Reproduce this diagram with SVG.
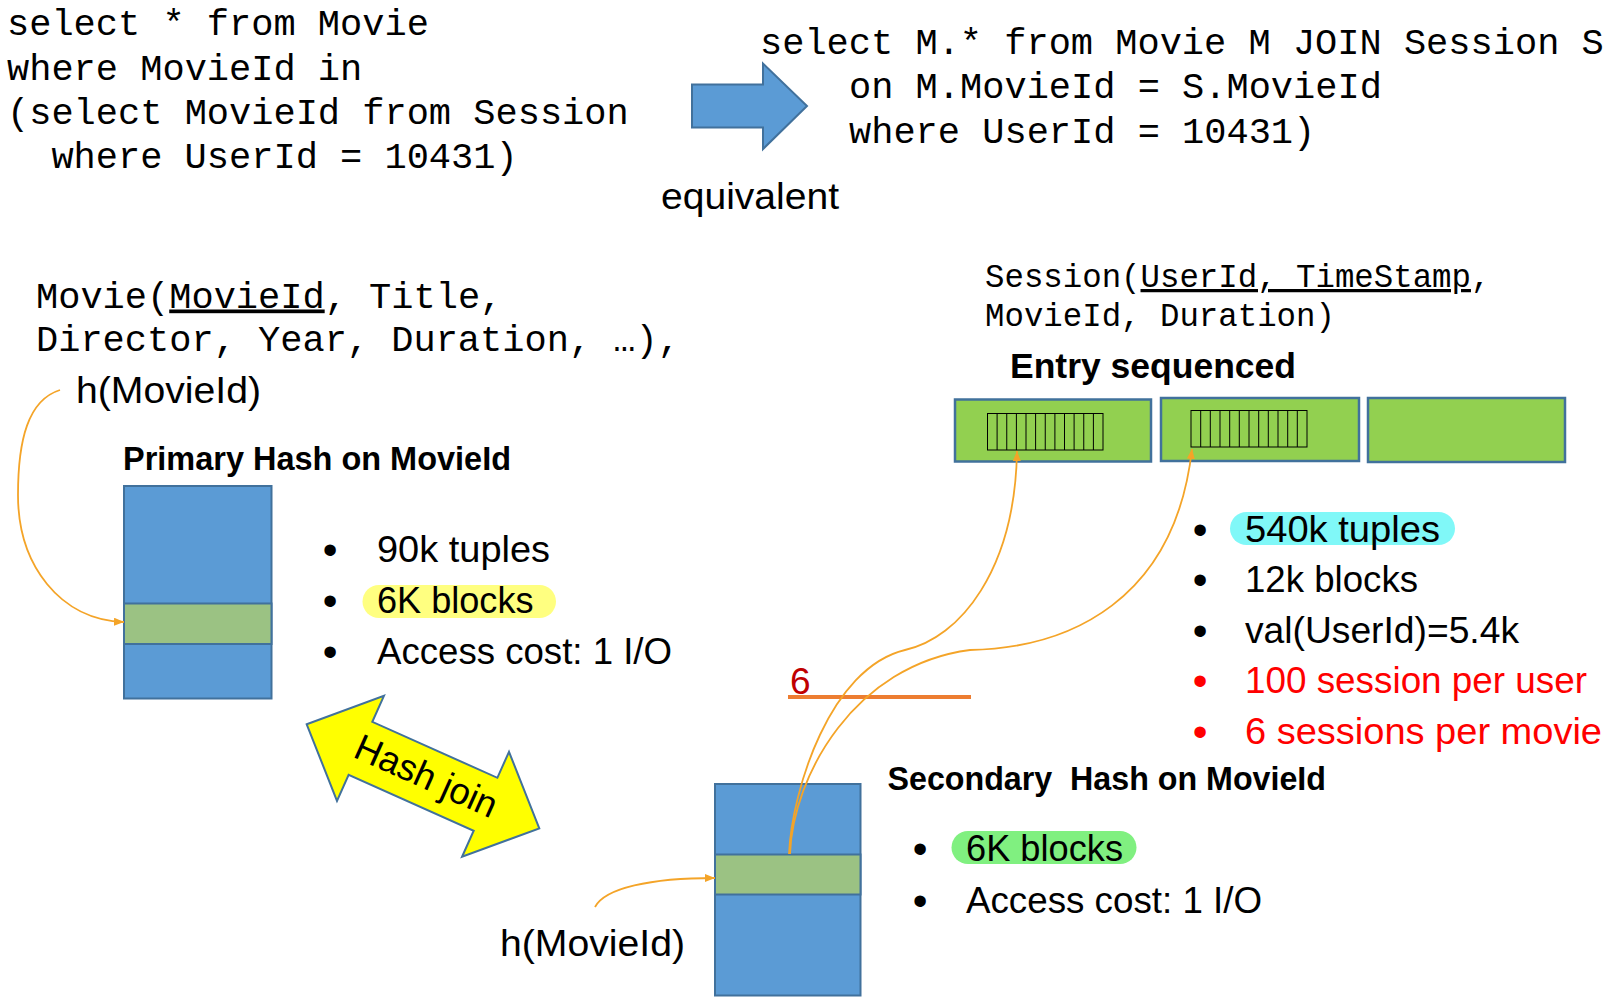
<svg xmlns="http://www.w3.org/2000/svg" width="1616" height="1000" viewBox="0 0 1616 1000">
<style>
.mono{font-family:"Liberation Mono","Courier New",monospace;font-size:37px;fill:#000}
.mono2{font-family:"Liberation Mono","Courier New",monospace;font-size:32.4px;fill:#000}
.body{font-family:"Liberation Sans",Arial,sans-serif;font-size:37px;fill:#000}
.bold{font-family:"Liberation Sans",Arial,sans-serif;font-weight:bold;fill:#000}
.bul{font-family:"Liberation Sans",Arial,sans-serif;font-size:42px;text-anchor:middle;fill:#000}
.body.red,.bul.red{fill:#FF0000}
.dred{fill:#C00000}
.blue{fill:#5B9BD5;stroke:#41719C;stroke-width:2}
.band{fill:#9BC283;stroke:#41719C;stroke-width:2}
.blk{fill:#92D050;stroke:#41719C;stroke-width:2.5}
.strip{fill:none;stroke:#000;stroke-width:1}
.conn{fill:none;stroke:#F4A428;stroke-width:1.8}
</style>
<defs>
<marker id="oa" viewBox="0 0 10 8" refX="10" refY="4" markerWidth="10" markerHeight="8" markerUnits="userSpaceOnUse" orient="auto">
<path d="M0,0 L10,4 L0,8 z" fill="#F4A428"/>
</marker>
</defs>

<g id="query-left">
<text class="mono" x="7" y="35">select * from Movie</text>
<text class="mono" x="7" y="79.5">where MovieId in</text>
<text class="mono" x="7" y="124">(select MovieId from Session</text>
<text class="mono" x="51.4" y="168">where UserId = 10431)</text>
</g>

<g id="equiv-arrow">
<path class="blue" d="M692,84.5 L763,84.5 L763,63.5 L807,106 L763,149 L763,127.5 L692,127.5 Z"/>
<text class="body" x="661" y="208.5" font-size="38" textLength="178" lengthAdjust="spacingAndGlyphs">equivalent</text>
</g>

<g id="query-right">
<text class="mono" x="760" y="53.5">select M.* from Movie M JOIN Session S</text>
<text class="mono" x="849" y="98">on M.MovieId = S.MovieId</text>
<text class="mono" x="849" y="142.5">where UserId = 10431)</text>
</g>

<g id="movie-schema">
<text class="mono" x="36" y="307.5">Movie(<tspan text-decoration="underline">MovieId</tspan>, Title,</text>
<text class="mono" x="36" y="350.5">Director, Year, Duration, …),</text>
</g>

<g id="h-label-1">
<text class="body" x="76" y="403" font-size="38" textLength="185" lengthAdjust="spacingAndGlyphs">h(MovieId)</text>
</g>

<g id="primary-hash">
<text class="bold" x="123" y="469.5" font-size="32.5" textLength="388" lengthAdjust="spacingAndGlyphs">Primary Hash on MovieId</text>
<rect class="blue" x="124" y="486" width="147.5" height="212.5"/>
<rect class="band" x="124" y="603.5" width="147.5" height="40.5"/>
</g>

<g id="primary-stats">
<rect x="362.5" y="585" width="193.5" height="33" rx="16.5" fill="#FFFF80"/>
<text class="bul" x="330" y="564">•</text>
<text class="bul" x="330" y="615">•</text>
<text class="bul" x="330" y="665.5">•</text>
<text class="body" x="377" y="562" textLength="173" lengthAdjust="spacingAndGlyphs">90k tuples</text>
<text class="body" x="377" y="613" textLength="156.5" lengthAdjust="spacingAndGlyphs">6K blocks</text>
<text class="body" x="377" y="663.5" textLength="295" lengthAdjust="spacingAndGlyphs">Access cost: 1 I/O</text>
</g>

<g id="hash-join" transform="translate(423,776.3) rotate(24.1)">
<path d="M-127.4,0 L-68.5,-57.5 L-68.5,-29 L68.5,-29 L68.5,-57.5 L127.4,0 L68.5,57.5 L68.5,29 L-68.5,29 L-68.5,57.5 Z" fill="#FFFF00" stroke="#41719C" stroke-width="2"/>
<text class="body" x="3" y="11" font-size="35" text-anchor="middle" textLength="152" lengthAdjust="spacingAndGlyphs">Hash join</text>
</g>

<g id="session-schema">
<text class="mono2" x="985" y="287">Session(<tspan text-decoration="underline">UserId, TimeStamp</tspan>,</text>
<text class="mono2" x="985" y="325.5">MovieId, Duration)</text>
<text class="bold" x="1010" y="378" font-size="35.5" textLength="286" lengthAdjust="spacingAndGlyphs">Entry sequenced</text>
</g>

<g id="session-blocks">
<rect class="blk" x="955" y="399.5" width="196" height="62"/>
<rect class="blk" x="1161" y="398" width="198" height="63"/>
<rect class="blk" x="1368" y="398" width="197" height="64"/>
<rect class="strip" x="987.5" y="413.5" width="115.5" height="36.5"/>
<path class="strip" d="M997.1,413.5v36.5M1006.75,413.5v36.5M1016.4,413.5v36.5M1026,413.5v36.5M1035.6,413.5v36.5M1045.25,413.5v36.5M1054.9,413.5v36.5M1064.5,413.5v36.5M1074.1,413.5v36.5M1083.75,413.5v36.5M1093.4,413.5v36.5"/>
<rect class="strip" x="1191" y="410.5" width="116" height="36.5"/>
<path class="strip" d="M1200.7,410.5v36.5M1210.3,410.5v36.5M1220,410.5v36.5M1229.7,410.5v36.5M1239.3,410.5v36.5M1249,410.5v36.5M1258.7,410.5v36.5M1268.3,410.5v36.5M1278,410.5v36.5M1287.7,410.5v36.5M1297.3,410.5v36.5"/>
</g>

<g id="session-stats">
<rect x="1230" y="512" width="225" height="33" rx="16.5" fill="#80F8F8"/>
<text class="bul" x="1200" y="543.5">•</text>
<text class="bul" x="1200" y="594">•</text>
<text class="bul" x="1200" y="644.5">•</text>
<text class="bul red" x="1200" y="695">•</text>
<text class="bul red" x="1200" y="745.5">•</text>
<text class="body" x="1245" y="541.5" textLength="195" lengthAdjust="spacingAndGlyphs">540k tuples</text>
<text class="body" x="1245" y="592" textLength="173" lengthAdjust="spacingAndGlyphs">12k blocks</text>
<text class="body" x="1245" y="642.5" textLength="274" lengthAdjust="spacingAndGlyphs">val(UserId)=5.4k</text>
<text class="body red" x="1245" y="693" textLength="342" lengthAdjust="spacingAndGlyphs">100 session per user</text>
<text class="body red" x="1245" y="743.5" textLength="357" lengthAdjust="spacingAndGlyphs">6 sessions per movie</text>
</g>

<g id="fanout-6">
<line x1="788" y1="697" x2="971" y2="697" stroke="#ED7D31" stroke-width="4.2"/>
<text class="body dred" x="790" y="693.5" font-size="33">6</text>
</g>

<g id="secondary-hash">
<text class="bold" x="887.5" y="790" font-size="32.5" textLength="438.5" lengthAdjust="spacingAndGlyphs" xml:space="preserve">Secondary  Hash on MovieId</text>
<rect class="blue" x="715" y="784" width="145.5" height="211.5"/>
<rect class="band" x="715" y="854.5" width="145.5" height="40"/>
</g>

<g id="secondary-stats">
<rect x="951.5" y="831" width="185" height="33" rx="16.5" fill="#80F080"/>
<text class="bul" x="920" y="862.5">•</text>
<text class="bul" x="920" y="914.5">•</text>
<text class="body" x="966" y="860.5" textLength="157" lengthAdjust="spacingAndGlyphs">6K blocks</text>
<text class="body" x="966" y="912.5" textLength="296" lengthAdjust="spacingAndGlyphs">Access cost: 1 I/O</text>
</g>

<g id="h-label-2">
<text class="body" x="500" y="956" font-size="38" textLength="185" lengthAdjust="spacingAndGlyphs">h(MovieId)</text>
</g>

<g id="connectors">
<path class="conn" d="M60,390 C28,400 18,440 18,495 C18,565 60,620 124,622" marker-end="url(#oa)"/>
<path class="conn" d="M595,907 C605,888 650,878 715,878" marker-end="url(#oa)"/>
<path class="conn" d="M789,854 C792,790 830,668 905,650 C960,638 1015,570 1017,451" marker-end="url(#oa)"/>
<path class="conn" d="M790,854 C793,775 855,665 970,650 C1070,648 1175,600 1192,449" marker-end="url(#oa)"/>
</g>
</svg>
